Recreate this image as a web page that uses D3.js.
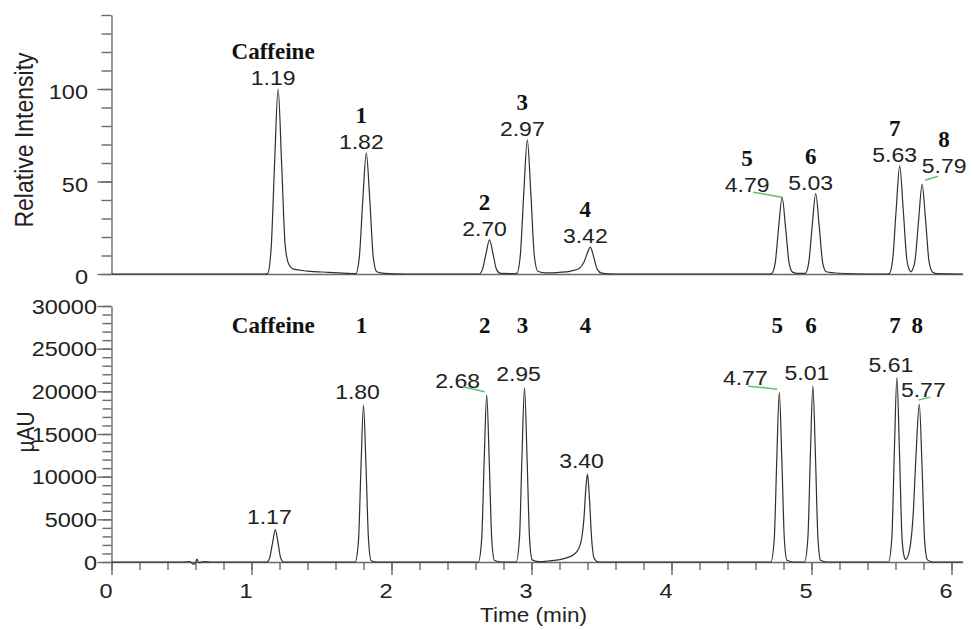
<!DOCTYPE html>
<html>
<head>
<meta charset="utf-8">
<title>Chromatograms</title>
<style>
  body { margin: 0; background: #fff; }
  text { font-family: "Liberation Sans", Arial, sans-serif; fill: #222; }
  text.name { font-family: "Liberation Serif", "Times New Roman", serif; font-weight: bold; fill: #111; }
</style>
<script src="https://d3js.org/d3.v7.min.js"></script>
</head>
<body>
<div id="chart"></div>
<script>
// ******* Data *******
const compounds = ["Caffeine", "1", "2", "3", "4", "5", "6", "7", "8"];

// upper panel, relative intensity
const topTimes   = [1.19, 1.82, 2.70, 2.97, 3.42, 4.79, 5.03, 5.63, 5.79];
const topHeights = [100, 65.5, 18.5, 72.5, 14.5, 41.5, 43.5, 58.5, 48.5];

// lower panel, µAU
const bottomTimes   = [1.17, 1.80, 2.68, 2.95, 3.40, 4.77, 5.01, 5.61, 5.77];
const bottomHeights = [3800, 18400, 19600, 20450, 10300, 19900, 20650, 21600, 18500];

// traces, [time (min), signal]
const topTrace = [
  [0, 0], [1.10, 0],
  [1.115, 0.3], [1.14, 13.5], [1.165, 60], [1.19, 100], [1.215, 60], [1.24, 16], [1.265, 5.5],
  [1.30, 2.6], [1.40, 1.6], [1.55, 0.9], [1.70, 0.3],
  [1.745, 0.2], [1.77, 9], [1.795, 40], [1.82, 65.5], [1.845, 40], [1.87, 9], [1.895, 1.2], [1.95, 0.3], [2.10, 0],
  [2.625, 0], [2.65, 2.5], [2.675, 11], [2.70, 18.5], [2.725, 11], [2.75, 2.5], [2.78, 0.3], [2.87, 0.2],
  [2.895, 0.3], [2.92, 10], [2.945, 44], [2.97, 72.5], [2.995, 44], [3.02, 10], [3.045, 1.5], [3.10, 0.6],
  [3.20, 0.9], [3.28, 1.6], [3.34, 3], [3.375, 6.5], [3.40, 11.5], [3.42, 14.5], [3.445, 9], [3.47, 2.5], [3.50, 0.5], [3.60, 0],
  [4.70, 0], [4.715, 0.2], [4.74, 5.6], [4.765, 25], [4.79, 41.5], [4.815, 25], [4.84, 6], [4.865, 1], [4.90, 0.3],
  [4.955, 0.3], [4.98, 6], [5.005, 26], [5.03, 43.5], [5.055, 26], [5.08, 6], [5.105, 1.2], [5.20, 0.4], [5.40, 0],
  [5.54, 0], [5.555, 0.2], [5.58, 8], [5.605, 35], [5.63, 58.5], [5.655, 35], [5.68, 8.5], [5.70, 2], [5.71, 1.2],
  [5.72, 2], [5.74, 7.5], [5.765, 29], [5.79, 48.5], [5.815, 29], [5.84, 6.5], [5.865, 1], [5.90, 0.2], [6.08, 0]
];

const bottomTrace = [
  [0, 0], [0.50, 0], [0.56, 60], [0.585, -250], [0.60, -100], [0.61, 350], [0.625, -80], [0.66, 40], [0.72, 0],
  [1.11, 0], [1.13, 500], [1.151, 2300], [1.17, 3800], [1.189, 2300], [1.208, 500], [1.23, 0],
  [1.74, 0], [1.764, 2480], [1.782, 11150], [1.80, 18400], [1.818, 11150], [1.836, 2550], [1.855, 150], [1.90, 0],
  [2.62, 0], [2.644, 2650], [2.662, 11900], [2.68, 19600], [2.698, 11900], [2.716, 2700], [2.735, 200], [2.78, 0],
  [2.89, 0], [2.914, 2760], [2.932, 12400], [2.95, 20450], [2.968, 12400], [2.986, 2800], [3.005, 250], [3.05, 50],
  [3.12, 120], [3.19, 250], [3.25, 480], [3.30, 850], [3.335, 1500], [3.36, 2900], [3.375, 5200], [3.388, 8600],
  [3.40, 10300], [3.414, 7400], [3.43, 2600], [3.448, 400], [3.48, 0],
  [4.71, 0], [4.734, 2690], [4.752, 12100], [4.77, 19900], [4.788, 12100], [4.806, 2700], [4.825, 200], [4.87, 0],
  [4.95, 0], [4.974, 2790], [4.992, 12550], [5.01, 20650], [5.028, 12550], [5.046, 2800], [5.065, 200], [5.11, 0],
  [5.55, 0], [5.574, 2920], [5.592, 13100], [5.61, 21600], [5.628, 13100], [5.646, 3000], [5.66, 800], [5.672, 300],
  [5.70, 1400], [5.726, 5500], [5.748, 13000], [5.77, 18500], [5.79, 11000], [5.808, 2500], [5.828, 250], [5.87, 0], [6.08, 0]
];

const xTicks = [0, 1, 2, 3, 4, 5, 6];
const topYTicks = [0, 50, 100];
const bottomYTicks = [0, 5000, 10000, 15000, 20000, 25000, 30000];

// ******* Layout *******
const width = 972, height = 630;
const axisColor = "#6a6a6a";

// label nudges (px from apex) and green leader lines
const topNudge = { "4.79": [-35, -5], "5.79": [22, -11] };
const topLeaders = { "4.79": [[-29, -5], [0, 0]], "5.79": [[3, -4], [16, -8]] };
const bottomNudge = { "2.68": [-29, -7], "4.77": [-34, -7], "5.77": [4, -7] };
const bottomLeaders = { "2.68": [[-24, -8], [-2, -3]], "4.77": [[-31, -6], [-2, -3]], "5.77": [[-1, -4], [11, -7]] };

// ******* Scales *******
const x = d3.scaleLinear().domain([0, 6.08]).range([111.5, 111.5 + 6.08 * 140]);
const yTop = d3.scaleLinear().domain([0, 140]).range([274, 274 - 140 * 1.85]);
const yBot = d3.scaleLinear().domain([0, 30000]).range([562, 306]);

const svg = d3.select("#chart").append("svg")
    .attr("width", width)
    .attr("height", height)
    .style("display", "block");

// text helper, the source picture is a bit stretched sideways
function label(x0, y0, str, size, sx, anchor, cls) {
  return svg.append("text")
      .attr("class", cls || null)
      .attr("transform", `translate(${x0},${y0}) scale(${sx},1)`)
      .attr("text-anchor", anchor)
      .style("font-size", size + "px")
      .text(str);
}

// ******* Axes *******
function styleAxis(g) {
  g.attr("color", axisColor);
  g.selectAll("path, line").attr("stroke-width", 1.4);
}

// top panel y axis
svg.append("g").attr("transform", `translate(${x(0)},0)`)
    .call(d3.axisLeft(yTop).tickValues(d3.range(0, 141, 10)).tickSize(10).tickSizeOuter(0).tickFormat(""))
    .call(styleAxis);
svg.append("g").attr("transform", `translate(${x(0)},0)`)
    .call(d3.axisLeft(yTop).tickValues(topYTicks).tickSize(14).tickFormat(""))
    .call(g => g.select(".domain").remove())
    .call(styleAxis);
// top panel baseline
svg.append("g").attr("transform", `translate(0,${yTop(0)})`)
    .call(d3.axisBottom(x).tickValues([]).tickSizeOuter(0))
    .call(styleAxis);

topYTicks.forEach(v => label(88, yTop(v) + 10, v, 21, 1.12, "end"));

// bottom panel y axis
svg.append("g").attr("transform", `translate(${x(0)},0)`)
    .call(d3.axisLeft(yBot).tickValues(d3.range(0, 30001, 1000)).tickSize(9).tickSizeOuter(0).tickFormat(""))
    .call(styleAxis);
svg.append("g").attr("transform", `translate(${x(0)},0)`)
    .call(d3.axisLeft(yBot).tickValues(bottomYTicks).tickSize(14).tickFormat(""))
    .call(g => g.select(".domain").remove())
    .call(styleAxis);

bottomYTicks.forEach(v => label(97, yBot(v) + 7.5, v, 21, 1.12, "end"));

// bottom x axis
svg.append("g").attr("transform", `translate(0,${yBot(0)})`)
    .call(d3.axisBottom(x).tickValues(d3.range(0, 6.01, 0.2)).tickSize(8).tickSizeOuter(0).tickFormat(""))
    .call(styleAxis);
svg.append("g").attr("transform", `translate(0,${yBot(0)})`)
    .call(d3.axisBottom(x).tickValues(xTicks).tickSize(13).tickFormat(""))
    .call(g => g.select(".domain").remove())
    .call(styleAxis);

xTicks.forEach(v => label(x(v) - 5.5, 598, v, 21, 1.12, "middle"));

label(x(3) + 2, 622, "Time (min)", 20, 1.13, "middle");

svg.append("text")
    .attr("transform", "translate(24,140) rotate(-90) scale(1,1.12)")
    .attr("text-anchor", "middle")
    .attr("dy", "0.35em")
    .style("font-size", "23px")
    .text("Relative Intensity");

svg.append("text")
    .attr("transform", "translate(26,432) rotate(-90) scale(1,1.12)")
    .attr("text-anchor", "middle")
    .attr("dy", "0.35em")
    .style("font-size", "21px")
    .text("µAU");

// ******* Traces *******
const topLine = d3.line().x(d => x(d[0])).y(d => yTop(d[1])).curve(d3.curveMonotoneX);
const botLine = d3.line().x(d => x(d[0])).y(d => yBot(d[1])).curve(d3.curveMonotoneX);

svg.append("path").datum(topTrace)
    .attr("d", topLine)
    .attr("fill", "none")
    .attr("stroke", "#303030")
    .attr("stroke-width", 1.2);

svg.append("path").datum(bottomTrace)
    .attr("d", botLine)
    .attr("fill", "none")
    .attr("stroke", "#303030")
    .attr("stroke-width", 1.2);

// ******* Peak labels *******
const fmt = d3.format(".2f");

topTimes.forEach((t, i) => {
  const key = fmt(t);
  const ax = x(t), ay = yTop(topHeights[i]);
  const n = topNudge[key] || [-5, -4];
  label(ax + n[0], ay + n[1], key, 19.5, 1.18, "middle");
  label(ax + n[0], ay + n[1] - 26, compounds[i], 23, 1, "middle", "name");
  if (topLeaders[key]) {
    const [a, b] = topLeaders[key];
    svg.append("line")
        .attr("x1", ax + a[0]).attr("y1", ay + a[1])
        .attr("x2", ax + b[0]).attr("y2", ay + b[1])
        .attr("stroke", "#5cc46e").attr("stroke-width", 1.5);
  }
});

bottomTimes.forEach((t, i) => {
  const key = fmt(t);
  const ax = x(t), ay = yBot(bottomHeights[i]);
  const n = bottomNudge[key] || [-6, -6];
  label(ax + n[0], ay + n[1], key, 19.5, 1.18, "middle");
  label(ax - 2, 333, compounds[i], 23, 1, "middle", "name");
  if (bottomLeaders[key]) {
    const [a, b] = bottomLeaders[key];
    svg.append("line")
        .attr("x1", ax + a[0]).attr("y1", ay + a[1])
        .attr("x2", ax + b[0]).attr("y2", ay + b[1])
        .attr("stroke", "#5cc46e").attr("stroke-width", 1.5);
  }
});
</script>
</body>
</html>
